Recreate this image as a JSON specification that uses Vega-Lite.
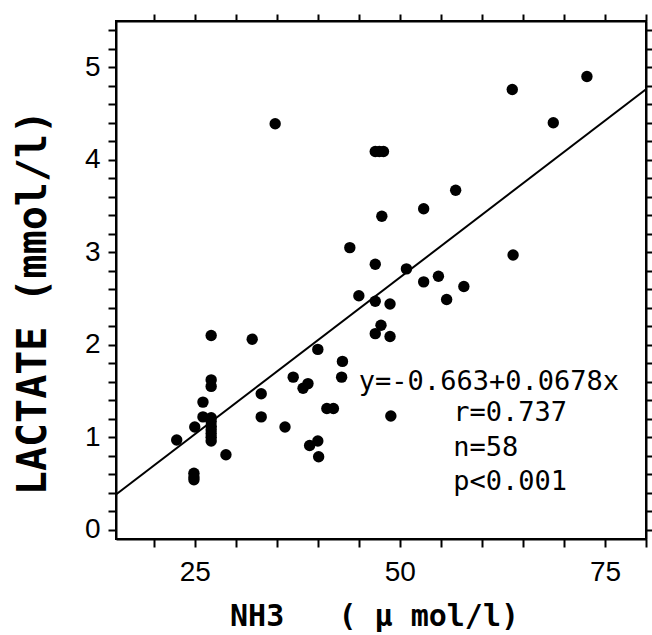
{
  "$schema": "https://vega.github.io/schema/vega-lite/v6.json",
  "width": 530,
  "height": 518,
  "autosize": "none",
  "padding": {"left": 116, "top": 21, "right": 6, "bottom": 96},
  "background": "white",
  "config": {"view": {"stroke": "black", "strokeWidth": 2}, "font": "DejaVu Sans"},
  "datasets": {
    "pts": [
      {"nh3": 34.8, "lac": 4.39}, {"nh3": 47.0, "lac": 4.09}, {"nh3": 47.5, "lac": 4.09}, {"nh3": 48.0, "lac": 4.09},
      {"nh3": 56.8, "lac": 3.67}, {"nh3": 52.9, "lac": 3.47}, {"nh3": 47.8, "lac": 3.39}, {"nh3": 43.9, "lac": 3.05},
      {"nh3": 47.0, "lac": 2.87}, {"nh3": 50.8, "lac": 2.82}, {"nh3": 54.7, "lac": 2.74}, {"nh3": 52.9, "lac": 2.68},
      {"nh3": 57.8, "lac": 2.63}, {"nh3": 55.7, "lac": 2.49}, {"nh3": 45.0, "lac": 2.53}, {"nh3": 47.0, "lac": 2.47},
      {"nh3": 48.8, "lac": 2.44}, {"nh3": 63.7, "lac": 4.76}, {"nh3": 72.8, "lac": 4.9}, {"nh3": 68.7, "lac": 4.4},
      {"nh3": 63.8, "lac": 2.97}, {"nh3": 47.7, "lac": 2.21}, {"nh3": 47.0, "lac": 2.12}, {"nh3": 48.8, "lac": 2.09},
      {"nh3": 40.0, "lac": 1.95}, {"nh3": 43.0, "lac": 1.82}, {"nh3": 42.9, "lac": 1.65}, {"nh3": 38.2, "lac": 1.53},
      {"nh3": 38.8, "lac": 1.58}, {"nh3": 41.1, "lac": 1.31}, {"nh3": 41.9, "lac": 1.31}, {"nh3": 48.9, "lac": 1.23},
      {"nh3": 40.0, "lac": 0.96}, {"nh3": 39.0, "lac": 0.91}, {"nh3": 40.1, "lac": 0.79}, {"nh3": 27.0, "lac": 2.1},
      {"nh3": 32.0, "lac": 2.06}, {"nh3": 27.0, "lac": 1.62}, {"nh3": 27.0, "lac": 1.55}, {"nh3": 37.0, "lac": 1.65},
      {"nh3": 33.1, "lac": 1.47}, {"nh3": 26.0, "lac": 1.38}, {"nh3": 26.0, "lac": 1.22}, {"nh3": 25.0, "lac": 1.11},
      {"nh3": 33.1, "lac": 1.22}, {"nh3": 36.0, "lac": 1.11}, {"nh3": 22.8, "lac": 0.97}, {"nh3": 28.8, "lac": 0.81},
      {"nh3": 24.9, "lac": 0.61}, {"nh3": 24.9, "lac": 0.57}, {"nh3": 24.9, "lac": 0.54},
      {"nh3": 27.0, "lac": 1.21}, {"nh3": 27.0, "lac": 1.17}, {"nh3": 27.0, "lac": 1.12}, {"nh3": 27.0, "lac": 1.08},
      {"nh3": 27.0, "lac": 1.04}, {"nh3": 27.0, "lac": 1.0}, {"nh3": 27.0, "lac": 0.96}
    ],
    "fit": [{"nh3": 15.4, "lac": 0.381}, {"nh3": 80, "lac": 4.761}],
    "ann": [
      {"label": "y=-0.663+0.0678x", "px": 45.0, "py": 1.596},
      {"label": "r=0.737", "px": 56.5, "py": 1.26},
      {"label": "n=58", "px": 56.5, "py": 0.882},
      {"label": "p<0.001", "px": 56.5, "py": 0.514}
    ]
  },
  "layer": [
    {
      "data": {"name": "pts"},
      "mark": {"type": "circle", "size": 130, "color": "black", "opacity": 1},
      "encoding": {
        "x": {
          "field": "nh3", "type": "quantitative",
          "scale": {"domain": [15.4, 80], "nice": false, "zero": false},
          "axis": {
            "orient": "bottom", "values": [20, 25, 30, 35, 40, 45, 50, 55, 60, 65, 70, 75, 80],
            "labelExpr": "datum.value % 25 === 0 ? format(datum.value, 'd') : ''",
            "labelOverlap": false, "labelFlush": false, "grid": false,
            "tickSize": 8, "tickWidth": 2, "tickColor": "black", "domainColor": "black", "domainWidth": 2,
            "labelFontSize": 28, "labelColor": "black", "labelPadding": 11, "labelFont": "Liberation Sans",
            "title": "NH3\u00a0\u00a0\u00a0(\u00a0µ\u00a0mol/l)", "titleFontSize": 30, "titleFont": "DejaVu Sans Mono", "titleFontWeight": "bold", "titleColor": "black",
            "titleX": 258, "titleY": 86, "titleBaseline": "alphabetic"
          }
        },
        "y": {
          "field": "lac", "type": "quantitative",
          "scale": {"domain": [-0.1, 5.5], "nice": false, "zero": false},
          "axis": {
            "orient": "left",
            "values": [0, 0.2, 0.4, 0.6, 0.8, 1, 1.2, 1.4, 1.6, 1.8, 2, 2.2, 2.4, 2.6, 2.8, 3, 3.2, 3.4, 3.6, 3.8, 4, 4.2, 4.4, 4.6, 4.8, 5, 5.2, 5.4],
            "labelExpr": "datum.value % 1 === 0 ? format(datum.value, 'd') : ''",
            "labelOverlap": false, "labelFlush": false, "grid": false,
            "tickSize": 8, "tickWidth": 2, "tickColor": "black", "domainColor": "black", "domainWidth": 2,
            "labelFontSize": 28, "labelColor": "black", "labelPadding": 8, "labelFont": "Liberation Sans",
            "title": "LACTATE (mmol/l)", "titleFontSize": 40, "titleFont": "DejaVu Sans Mono", "titleFontWeight": "bold", "titleColor": "black",
            "titleX": -71, "titleY": 281, "titleAngle": 270, "titleBaseline": "alphabetic"
          }
        }
      }
    },
    {
      "data": {"name": "fit"},
      "mark": {"type": "line", "color": "black", "strokeWidth": 2, "clip": true},
      "encoding": {
        "x": {
          "field": "nh3", "type": "quantitative",
          "axis": {
            "orient": "top", "values": [20, 25, 30, 35, 40, 45, 50, 55, 60, 65, 70, 75, 80],
            "labels": false, "title": null, "grid": false,
            "tickSize": 7, "tickWidth": 2, "tickColor": "black", "domainColor": "black", "domainWidth": 2
          }
        },
        "y": {
          "field": "lac", "type": "quantitative",
          "axis": {
            "orient": "right",
            "values": [0, 0.2, 0.4, 0.6, 0.8, 1, 1.2, 1.4, 1.6, 1.8, 2, 2.2, 2.4, 2.6, 2.8, 3, 3.2, 3.4, 3.6, 3.8, 4, 4.2, 4.4, 4.6, 4.8, 5, 5.2, 5.4],
            "labels": false, "title": null, "grid": false,
            "tickSize": 6, "tickWidth": 2, "tickColor": "black", "domainColor": "black", "domainWidth": 2
          }
        }
      }
    },
    {
      "data": {"name": "ann"},
      "mark": {"type": "text", "align": "left", "baseline": "middle", "font": "DejaVu Sans Mono", "fontSize": 27, "color": "black"},
      "encoding": {
        "x": {"field": "px", "type": "quantitative", "axis": null},
        "y": {"field": "py", "type": "quantitative", "axis": null},
        "text": {"field": "label", "type": "nominal"}
      }
    }
  ],
  "resolve": {"axis": {"x": "independent", "y": "independent"}}
}
